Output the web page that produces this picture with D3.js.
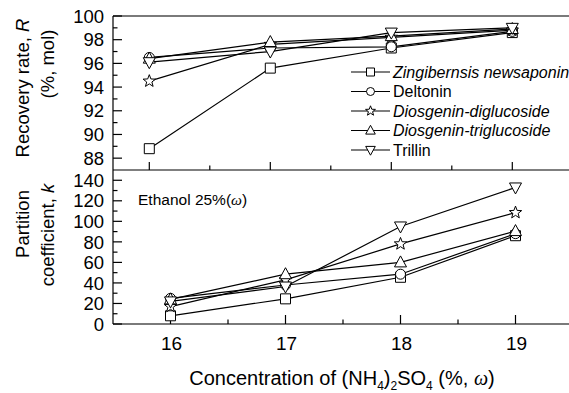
<!DOCTYPE html>
<html><head><meta charset="utf-8">
<script src="https://cdn.jsdelivr.net/npm/d3@7"></script>
<style>
html,body{margin:0;padding:0;background:#fff;}
svg{display:block;font-family:"Liberation Sans",Arial,sans-serif;}
</style></head>
<body>
<svg id="chart" width="569" height="393"></svg>
<script>
// ---- data ----
const concentrations = [16, 17, 18, 19];
const seriesNames = ["Zingibernsis newsaponin", "Deltonin", "Diosgenin-diglucoside", "Diosgenin-triglucoside", "Trillin"];
const seriesItalic = [true, false, true, true, false];
const seriesSymbols = ["square", "circle", "star", "triangle", "triangleDown"];
// Recovery rate R (%, mol)
const recZingibernsis = [88.8, 95.6, 97.3, 98.6];
const recDeltonin     = [96.5, 97.3, 97.4, 98.7];
const recDiglucoside  = [94.5, 97.6, 98.2, 98.8];
const recTriglucoside = [96.4, 97.8, 98.3, 98.9];
const recTrillin      = [96.1, 97.0, 98.6, 99.0];
// Partition coefficient k
const kZingibernsis = [8, 24.5, 45.5, 86];
const kDeltonin     = [25, 38, 48.5, 88];
const kDiglucoside  = [17, 43, 78, 108.5];
const kTriglucoside = [24, 48.5, 60, 90.5];
const kTrillin      = [22, 36.5, 95, 133];
const recTicks = [88, 90, 92, 94, 96, 98, 100];
const kTicks = [0, 20, 40, 60, 80, 100, 120, 140];
const xTicks = [16, 17, 18, 19];

const recSeries = [recZingibernsis, recDeltonin, recDiglucoside, recTriglucoside, recTrillin];
const kSeries = [kZingibernsis, kDeltonin, kDiglucoside, kTriglucoside, kTrillin];

const svg = d3.select("#chart");
const axisX = 113;

// ---- scales ----
const xTop = d3.scaleLinear().domain([15.7, 19.8]).range([axisX, axisX + 4.1 * 121]);
const xBot = d3.scaleLinear().domain([15.5, 19.5]).range([axisX, axisX + 4 * 115]);
const yTop = d3.scaleLinear().domain([87, 100]).range([170, 16]);
const yBot = d3.scaleLinear().domain([0, 150]).range([324, 170]);

// ---- symbols ----
function starPath(r) {
  const pts = [];
  const ri = r * 0.42;
  for (let i = 0; i < 10; i++) {
    const a = -Math.PI / 2 + i * Math.PI / 5;
    const rr = i % 2 === 0 ? r : ri;
    pts.push([rr * Math.cos(a), rr * Math.sin(a)]);
  }
  return "M" + pts.map(p => p[0].toFixed(2) + "," + p[1].toFixed(2)).join("L") + "Z";
}
function symbolPath(type) {
  switch (type) {
    case "square": return "M-5,-5H5V5H-5Z";
    case "circle": return "M5,0A5,5 0 1,1 -5,0A5,5 0 1,1 5,0Z";
    case "star": return starPath(6.5);
    case "triangle": return "M0,-6.5L6,4.5L-6,4.5Z";
    case "triangleDown": return "M0,6.5L6,-4.5L-6,-4.5Z";
  }
}
function drawMarker(g, type, x, y, s) {
  g.append("path").attr("d", symbolPath(type))
    .attr("transform", `translate(${x},${y}) scale(${s || 1})`)
    .attr("fill", "#fff").attr("stroke", "#000").attr("stroke-width", 1 / (s || 1));
}

// ---- axes frames ----
svg.append("line").attr("x1", axisX).attr("x2", 569).attr("y1", 16).attr("y2", 16)
  .attr("stroke", "#7a7a7a").attr("stroke-width", 2);
svg.append("line").attr("x1", axisX).attr("x2", 569).attr("y1", 324).attr("y2", 324)
  .attr("stroke", "#7a7a7a").attr("stroke-width", 2);
svg.append("line").attr("x1", axisX).attr("x2", 569).attr("y1", 170).attr("y2", 170)
  .attr("stroke", "#000").attr("stroke-width", 1.2);
svg.append("line").attr("x1", axisX).attr("x2", axisX).attr("y1", 16).attr("y2", 324)
  .attr("stroke", "#000").attr("stroke-width", 1.2);

// y ticks top
const gT = svg.append("g");
yTop.ticks(13).forEach(v => {
  if (v < 87.5) return;
  const major = v % 2 === 0;
  gT.append("line").attr("x1", axisX).attr("x2", axisX + (major ? 9 : 4.5))
    .attr("y1", yTop(v)).attr("y2", yTop(v)).attr("stroke", "#000").attr("stroke-width", 1.2);
});
recTicks.forEach(v => {
  gT.append("text").attr("x", axisX - 9).attr("y", yTop(v)).attr("dy", "0.36em")
    .attr("text-anchor", "end").attr("font-size", 18.5).text(v);
});
// y ticks bottom
const gB = svg.append("g");
d3.range(0, 150, 10).forEach(v => {
  const major = v % 20 === 0;
  gB.append("line").attr("x1", axisX).attr("x2", axisX + (major ? 9 : 4.5))
    .attr("y1", yBot(v)).attr("y2", yBot(v)).attr("stroke", "#000").attr("stroke-width", 1.2);
});
kTicks.forEach(v => {
  gB.append("text").attr("x", axisX - 9).attr("y", yBot(v)).attr("dy", "0.36em")
    .attr("text-anchor", "end").attr("font-size", 18.5).text(v);
});
// x ticks top panel (pointing up from divider)
d3.range(16, 19.01, 0.5).forEach(v => {
  const major = Number.isInteger(v);
  gT.append("line").attr("x1", xTop(v)).attr("x2", xTop(v))
    .attr("y1", 170).attr("y2", 170 - (major ? 8 : 4.5)).attr("stroke", "#000").attr("stroke-width", 1.2);
});
// x ticks bottom panel
d3.range(16, 19.01, 0.5).forEach(v => {
  const major = Number.isInteger(v);
  gB.append("line").attr("x1", xBot(v)).attr("x2", xBot(v))
    .attr("y1", 324).attr("y2", 324 - (major ? 9 : 4.5)).attr("stroke", "#000").attr("stroke-width", 1.2);
});
xTicks.forEach(v => {
  gB.append("text").attr("x", xBot(v) + 1).attr("y", 350).attr("text-anchor", "middle")
    .attr("font-size", 19).text(v);
});

// ---- series ----
const lineTop = d3.line().x((d, i) => xTop(concentrations[i])).y(d => yTop(d));
const lineBot = d3.line().x((d, i) => xBot(concentrations[i])).y(d => yBot(d));
const gLines = svg.append("g");
recSeries.forEach(s => gLines.append("path").attr("d", lineTop(s)).attr("fill", "none").attr("stroke", "#000").attr("stroke-width", 1.2));
kSeries.forEach(s => gLines.append("path").attr("d", lineBot(s)).attr("fill", "none").attr("stroke", "#000").attr("stroke-width", 1.2));
const gMarks = svg.append("g");
recSeries.forEach((s, k) => s.forEach((v, i) => drawMarker(gMarks, seriesSymbols[k], xTop(concentrations[i]), yTop(v))));
kSeries.forEach((s, k) => s.forEach((v, i) => drawMarker(gMarks, seriesSymbols[k], xBot(concentrations[i]), yBot(v))));

// ---- legend ----
const gL = svg.append("g");
seriesNames.forEach((name, k) => {
  const y = 72 + k * 19.5;
  gL.append("line").attr("x1", 351).attr("x2", 390).attr("y1", y).attr("y2", y)
    .attr("stroke", "#000").attr("stroke-width", 1.2);
  drawMarker(gL, seriesSymbols[k], 370.5, y, 0.8);
  gL.append("text").attr("x", 393).attr("y", y).attr("dy", "0.36em")
    .attr("font-size", 16).attr("font-style", seriesItalic[k] ? "italic" : "normal").text(name);
});

// ---- annotations ----
const eth = svg.append("text").attr("x", 138).attr("y", 205).attr("font-size", 15.5);
eth.append("tspan").text("Ethanol 25%(");
eth.append("tspan").attr("font-family", "Liberation Serif, serif").attr("font-style", "italic").text("ω");
eth.append("tspan").text(")");

// ---- axis titles ----
const yt1 = svg.append("text").attr("transform", "translate(22,88) rotate(-90)")
  .attr("text-anchor", "middle").attr("dy", "0.36em").attr("font-size", 18.5);
yt1.append("tspan").text("Recovery rate, ");
yt1.append("tspan").attr("font-style", "italic").text("R");
svg.append("text").attr("transform", "translate(47,64) rotate(-90)")
  .attr("text-anchor", "middle").attr("dy", "0.36em").attr("font-size", 18.5).text("(%, mol)");
svg.append("text").attr("transform", "translate(22,224) rotate(-90)")
  .attr("text-anchor", "middle").attr("dy", "0.36em").attr("font-size", 18.5).text("Partition");
const yt2 = svg.append("text").attr("transform", "translate(47,235) rotate(-90)")
  .attr("text-anchor", "middle").attr("dy", "0.36em").attr("font-size", 18.5);
yt2.append("tspan").text("coefficient, ");
yt2.append("tspan").attr("font-style", "italic").text("k");

const xt = svg.append("text").attr("x", 342).attr("y", 385).attr("text-anchor", "middle").attr("font-size", 20);
xt.append("tspan").text("Concentration of (NH");
xt.append("tspan").attr("font-size", 12).attr("dy", 5).text("4");
xt.append("tspan").attr("dy", -5).text(")");
xt.append("tspan").attr("font-size", 12).attr("dy", 5).text("2");
xt.append("tspan").attr("dy", -5).text("SO");
xt.append("tspan").attr("font-size", 12).attr("dy", 5).text("4");
xt.append("tspan").attr("dy", -5).text(" (%, ");
xt.append("tspan").attr("font-family", "Liberation Serif, serif").attr("font-style", "italic").text("ω");
xt.append("tspan").text(")");
</script>
</body></html>
